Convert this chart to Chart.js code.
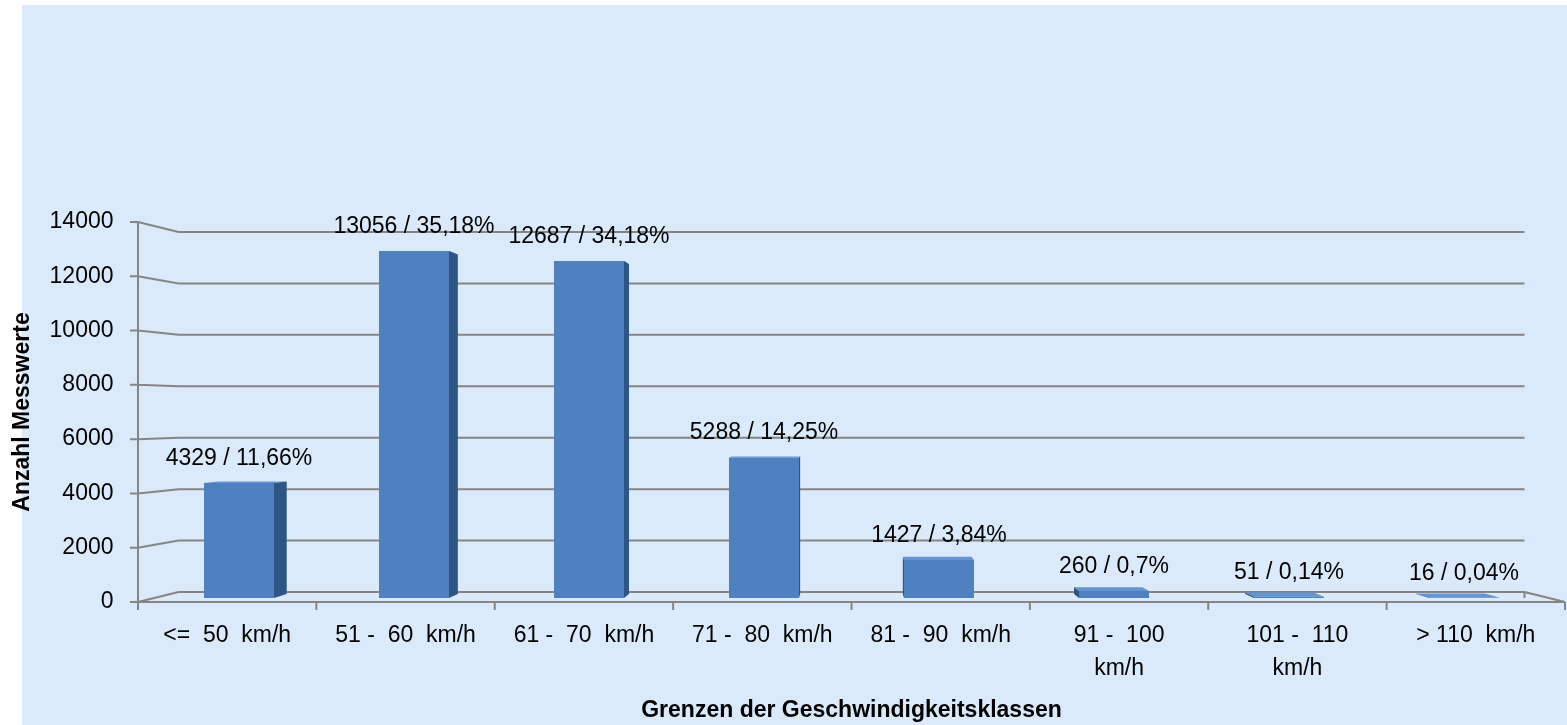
<!DOCTYPE html>
<html>
<head>
<meta charset="utf-8">
<title>Grenzen der Geschwindigkeitsklassen</title>
<script src="https://cdn.jsdelivr.net/npm/chart.js@4.4.1/dist/chart.umd.min.js"></script>
<style>
    html, body { margin: 0; padding: 0; background: #fff; }
    canvas { display: block; }
</style>
</head>
<body>
<canvas id="speedChart" width="1567" height="725"></canvas>
<script>
/* ── Data ─────────────────────────────────────────── */
var categories = [
    '<=  50  km/h',
    '51 -  60  km/h',
    '61 -  70  km/h',
    '71 -  80  km/h',
    '81 -  90  km/h',
    ['91 -  100', 'km/h'],
    ['101 -  110', 'km/h'],
    '> 110  km/h'
];
var counts = [4329, 13056, 12687, 5288, 1427, 260, 51, 16];
var percents = ['11,66', '35,18', '34,18', '14,25', '3,84', '0,7', '0,14', '0,04'];
var yTicks = [0, 2000, 4000, 6000, 8000, 10000, 12000, 14000];

var yTitle = 'Anzahl Messwerte';
var xTitle = 'Grenzen der Geschwindigkeitsklassen';

/* ── 3D look: scale factors around the plot centre ── */
var FRONT = { kx: 1.0193, ky: 1.0215 };
var BACK = { kx: 0.9614, ky: 0.9677 };
var BAR_DEPTH = 0.978;

var COLORS = {
    page: '#dbeafa',
    grid: '#858585',
    face: '#4f81c0',
    side: '#2f5584',
    top: '#6494d2'
};

var yMax = yTicks[yTicks.length - 1];
var nCat = categories.length;

// front axis ranges so that the library puts the labels on the front edge
var yFrontMin = yMax * (FRONT.ky - 1) / (2 * FRONT.ky);
var yFrontMax = yMax * (1 + FRONT.ky) / (2 * FRONT.ky);
var xFrontMin = nCat * (0.5 - 0.5 / FRONT.kx) - 0.5;
var xFrontMax = nCat * (0.5 + 0.5 / FRONT.kx) - 0.5;

function proj(area, x, y, kx, ky) {
    var cx = (area.left + area.right) / 2, cy = (area.top + area.bottom) / 2;
    return [cx + (x - cx) * kx, cy + (y - cy) * ky];
}

function poly(ctx, pts, color) {
    ctx.beginPath();
    ctx.moveTo(pts[0][0], pts[0][1]);
    for (var i = 1; i < pts.length; i++) ctx.lineTo(pts[i][0], pts[i][1]);
    ctx.closePath();
    ctx.fillStyle = color;
    ctx.fill();
}

function seg(ctx, a, b) {
    ctx.moveTo(a[0], a[1]);
    ctx.lineTo(b[0], b[1]);
}

/* ── Plugin: background, walls, floor, bar sides ──── */
var frame3d = {
    id: 'frame3d',
    beforeDraw: function (chart) {
        var ctx = chart.ctx;
        ctx.save();
        ctx.fillStyle = COLORS.page;
        ctx.fillRect(22, 5, chart.width - 22, chart.height - 5);
        ctx.restore();
    },
    beforeDatasetsDraw: function (chart) {
        var a = chart.chartArea, ys = chart.scales.y, ctx = chart.ctx;
        var cx = (a.left + a.right) / 2;
        ctx.save();
        ctx.strokeStyle = COLORS.grid;
        ctx.lineWidth = 2;
        ctx.beginPath();
        yTicks.forEach(function (v) {
            var p = ys.getPixelForValue(v);
            var fl = proj(a, a.left, p, FRONT.kx, FRONT.ky);
            var bl = proj(a, a.left, p, BACK.kx, BACK.ky);
            var br = proj(a, a.right, p, BACK.kx, BACK.ky);
            seg(ctx, [fl[0] - 8, fl[1]], fl);
            seg(ctx, fl, bl);
            seg(ctx, bl, br);
        });
        var f0 = proj(a, a.left, ys.getPixelForValue(0), FRONT.kx, FRONT.ky);
        var fTop = proj(a, a.left, ys.getPixelForValue(yMax), FRONT.kx, FRONT.ky);
        var fr0 = proj(a, a.right, ys.getPixelForValue(0), FRONT.kx, FRONT.ky);
        var br0 = proj(a, a.right, ys.getPixelForValue(0), BACK.kx, BACK.ky);
        seg(ctx, fTop, f0);
        seg(ctx, f0, fr0);
        seg(ctx, br0, fr0);
        seg(ctx, br0, [br0[0], br0[1] + 6]);
        // category boundaries on the front floor edge
        var step = (a.right - a.left) / nCat;
        for (var i = 0; i <= nCat; i++) {
            var t = proj(a, a.left + i * step, ys.getPixelForValue(0), FRONT.kx, FRONT.ky);
            seg(ctx, t, [t[0], t[1] + 8]);
        }
        ctx.stroke();

        // top + side faces of the bars (front face is drawn by Chart.js)
        var meta = chart.getDatasetMeta(0);
        meta.data.forEach(function (bar) {
            var p = bar.getProps(['x', 'y', 'base', 'width'], true);
            var xl = p.x - p.width / 2, xr = p.x + p.width / 2;
            var tl = proj(a, xl, p.y, BAR_DEPTH, BAR_DEPTH);
            var tr = proj(a, xr, p.y, BAR_DEPTH, BAR_DEPTH);
            var bl = proj(a, xl, p.base, BAR_DEPTH, BAR_DEPTH);
            var br = proj(a, xr, p.base, BAR_DEPTH, BAR_DEPTH);
            poly(ctx, [[xl, p.y], [xr, p.y], tr, tl], COLORS.top);
            if (p.x < cx) poly(ctx, [[xr, p.y], [xr, p.base], br, tr], COLORS.side);
            else poly(ctx, [[xl, p.y], [xl, p.base], bl, tl], COLORS.side);
        });
        ctx.restore();
    },
    afterDatasetsDraw: function (chart) {
        var ctx = chart.ctx;
        ctx.save();
        ctx.font = '23px "Liberation Sans", Arial, sans-serif';
        ctx.fillStyle = '#000';
        ctx.textAlign = 'center';
        ctx.textBaseline = 'alphabetic';
        chart.getDatasetMeta(0).data.forEach(function (bar, i) {
            var p = bar.getProps(['x', 'y'], true);
            ctx.fillText(counts[i] + ' / ' + percents[i] + '%', p.x, p.y - 18);
        });
        ctx.restore();
    }
};

/* ── Chart ────────────────────────────────────────── */
Chart.defaults.font.family = '"Liberation Sans", Arial, sans-serif';
Chart.defaults.font.size = 23;
Chart.defaults.color = '#000';

new Chart(document.getElementById('speedChart'), {
    type: 'bar',
    data: {
        labels: categories,
        datasets: [{
            label: yTitle,
            data: counts,
            xAxisID: 'x',
            yAxisID: 'y',
            backgroundColor: COLORS.face,
            borderWidth: 0,
            barPercentage: 0.4,
            categoryPercentage: 1
        }]
    },
    options: {
        responsive: false,
        animation: false,
        layout: { padding: { top: 226, right: 15.5, bottom: 0, left: 0 } },
        plugins: { legend: { display: false }, tooltip: { enabled: false } },
        scales: {
            x: { type: 'category', display: false, offset: true },
            y: { type: 'linear', display: false, min: 0, max: yMax },
            yFront: {
                type: 'linear',
                position: 'left',
                min: yFrontMin,
                max: yFrontMax,
                bounds: 'data',
                beginAtZero: false,
                offset: false,
                grid: { display: false, drawTicks: false, tickLength: 0 },
                border: { display: false },
                afterBuildTicks: function (scale) {
                    scale.ticks = yTicks.map(function (v) { return { value: v }; });
                },
                afterFit: function (scale) { scale.width = 151.5; },
                ticks: {
                    padding: 38,
                    autoSkip: false,
                    callback: function (v) { return String(v); }
                },
                title: {
                    display: true,
                    text: yTitle,
                    font: { size: 23, weight: 'bold' },
                    padding: { top: 9, bottom: 0 }
                }
            },
            xFront: {
                type: 'linear',
                position: 'bottom',
                min: xFrontMin,
                max: xFrontMax,
                bounds: 'data',
                beginAtZero: false,
                offset: false,
                grid: { display: false, drawTicks: false, tickLength: 0, offset: false },
                border: { display: false },
                afterBuildTicks: function (scale) {
                    scale.ticks = categories.map(function (c, i) { return { value: i }; });
                },
                afterFit: function (scale) { scale.height = 127; },
                ticks: {
                    padding: 21,
                    autoSkip: false,
                    maxRotation: 0,
                    font: { size: 23, lineHeight: 1.43 },
                    callback: function (v, i) { return categories[i]; }
                },
                title: {
                    display: true,
                    text: xTitle,
                    font: { size: 23, weight: 'bold' },
                    padding: { top: 0, bottom: 1 }
                }
            }
        }
    },
    plugins: [frame3d]
});
</script>
</body>
</html>
